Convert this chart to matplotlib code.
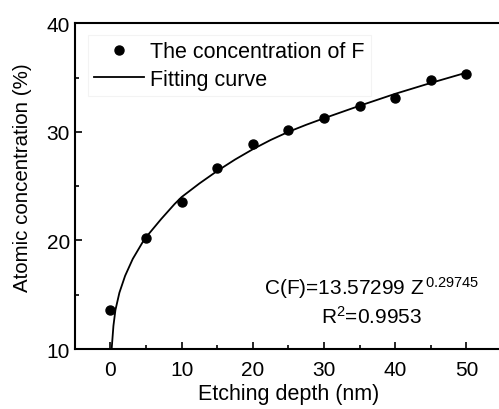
import matplotlib
matplotlib.use("Agg")
import matplotlib.pyplot as plt

plt.rcParams['font.family'] = ['Liberation Sans', 'DejaVu Sans']
plt.rcParams['mathtext.fontset'] = 'custom'
plt.rcParams['mathtext.rm'] = 'Liberation Sans'
plt.rcParams['mathtext.it'] = 'Liberation Sans'

# measured F concentration
depth = [0, 5, 10, 15, 20, 25, 30, 35, 40, 45, 50]
conc_f = [13.6, 20.2, 23.5, 26.7, 28.9, 30.2, 31.3, 32.4, 33.1, 34.8, 35.3]

# fitting curve
fit_x = [0.18, 0.42, 0.70, 1.26, 2.06, 3.13, 4.78, 7.12, 9.0, 10, 12.5, 15,
         17.5, 20, 22.5, 25, 27.5, 30, 35, 40, 45, 50]
fit_y = [10.1, 12.15, 13.6, 15.2, 16.75, 18.3, 20.13, 21.97, 23.35, 24.0, 25.25, 26.4,
         27.45, 28.4, 29.25, 30.0, 30.65, 31.25, 32.4, 33.5, 34.5, 35.45]

fig = plt.figure(figsize=(4.99, 4.10), dpi=100)
ax = fig.add_axes([0.150, 0.146, 0.856, 0.795])

ax.plot(depth, conc_f, 'o', color='black', markersize=6.5, label='The concentration of F', zorder=3)
ax.plot(fit_x, fit_y, '-', color='black', linewidth=1.3, label='Fitting curve')

ax.set_xlim(-5, 55)
ax.set_ylim(10, 40)
ax.set_xticks([0, 10, 20, 30, 40, 50])
ax.set_xticks([5, 15, 25, 35, 45], minor=True)
ax.set_yticks([10, 20, 30, 40])
ax.set_yticks([15, 25, 35], minor=True)
ax.tick_params(which='both', direction='in', labelsize=15, width=1.2)
ax.tick_params(which='major', length=5)
ax.tick_params(which='minor', length=3)
ax.tick_params(axis='x', pad=8)
for s in ax.spines.values():
    s.set_linewidth(1.5)

ax.set_xlabel('Etching depth (nm)', fontsize=15.5, labelpad=3)
ax.set_ylabel('Atomic concentration (%)', fontsize=14.8)
ax.yaxis.set_label_coords(-0.10, 0.53)

leg = ax.legend(loc='upper left', fontsize=15.5, frameon=True, handlelength=2.3,
                handletextpad=0.3, borderpad=0.3, labelspacing=0.3,
                bbox_to_anchor=(0.005, 0.997), fancybox=False)
leg.get_frame().set_edgecolor('#f0f0f0')
leg.get_frame().set_linewidth(0.8)

ax.text(36.7, 15.7, 'C(F)=13.57299 Z$^{\\,0.29745}$', fontsize=15, ha='center', va='center')
ax.text(36.7, 13.1, 'R$^{2}$=0.9953', fontsize=15, ha='center', va='center')

fig.savefig('out.png', dpi=100)
